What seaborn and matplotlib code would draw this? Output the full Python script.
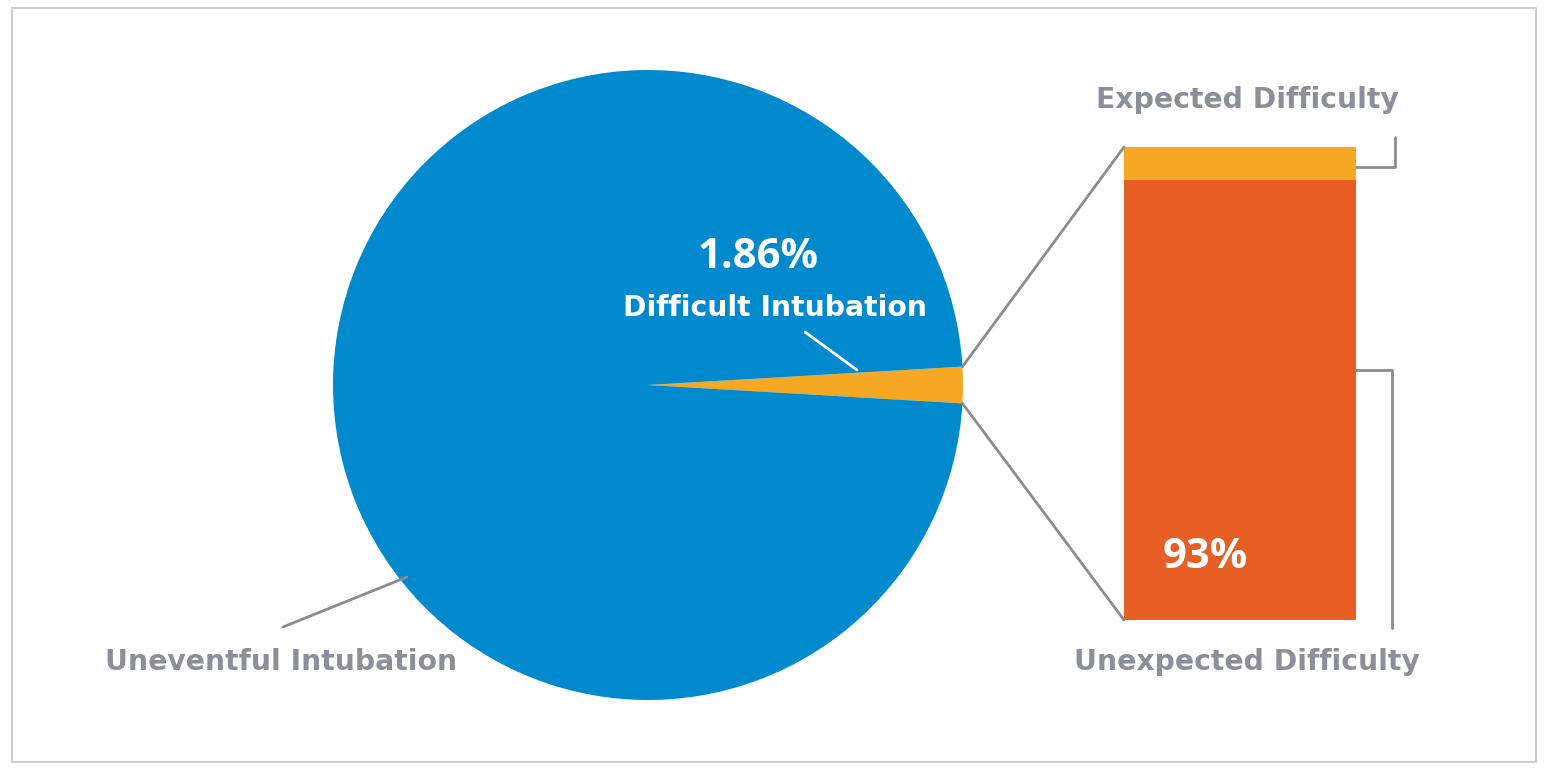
import matplotlib
matplotlib.use("Agg")
import matplotlib.pyplot as plt
from matplotlib.patches import ConnectionPatch, Rectangle
import seaborn as sns
import numpy as np

# ---- data ----
pie_labels = ["Difficult Intubation", "Uneventful Intubation"]
pie_values = [1.86, 98.14]
bar_labels = ["Unexpected Difficulty", "Expected Difficulty"]
bar_values = [93, 7]

sns.set_theme(style="white")
plt.rcParams['font.family'] = ['DejaVu Sans']

LABEL_FONT = ["DejaVu Sans"]
NUM_FONT = ["Open Sans", "DejaVu Sans"]
LABEL_SIZE = 20.3

BLUE = "#0089CC"
YELLOW = "#F4A823"
RED = "#E75F24"
GRAY_TXT = "#8A9099"
GRAY_LN = "#8C8C8C"

W, H = 1555, 772
fig = plt.figure(figsize=(W / 100, H / 100), dpi=100)
fig.patch.set_facecolor("white")

def fx(px):
    return px / W

def fy(py):
    return 1 - py / H

# border box
fig.patches.append(Rectangle((fx(12), fy(762)), fx(1536) - fx(12), fy(8) - fy(762),
                             transform=fig.transFigure, fill=False,
                             edgecolor="#CFCFCF", lw=1.5))

# ---- pie ----
cx, cy, r = 648, 385, 315
ax_pie = fig.add_axes([fx(cx - r), fy(cy + r), 2 * r / W, 2 * r / H])
half = pie_values[0] / sum(pie_values) * 360 / 2
ax_pie.pie(pie_values, colors=[YELLOW, BLUE], startangle=-half,
           counterclock=True, radius=1,
           wedgeprops=dict(linewidth=0))
ax_pie.set_xlim(-1, 1)
ax_pie.set_ylim(-1, 1)
ax_pie.set_aspect("equal")
ax_pie.axis("off")

def pd(px, py):
    return ((px - cx) / r, (cy - py) / r)

ax_pie.text(*pd(758, 257), f"{pie_values[0]:.2f}%", color="white",
            fontsize=30, fontweight="bold", family=NUM_FONT,
            ha="center", va="center")
ax_pie.text(*pd(775, 308), pie_labels[0], color="white", fontsize=LABEL_SIZE,
            fontweight="bold", family=LABEL_FONT, ha="center", va="center")
x0, y0 = pd(805, 332)
x1, y1 = pd(857, 370)
ax_pie.plot([x0, x1], [y0, y1], color="white", lw=2)

ax_pie.text(*pd(281, 662), pie_labels[1], color=GRAY_TXT, fontsize=LABEL_SIZE,
            fontweight="bold", family=LABEL_FONT, ha="center", va="center",
            clip_on=False)
x0, y0 = pd(283, 627)
x1, y1 = pd(407, 577)
ax_pie.plot([x0, x1], [y0, y1], color=GRAY_LN, lw=2, clip_on=False)

# ---- bar ----
bl, br, bt, bb = 1124, 1356, 147, 620
ax_bar = fig.add_axes([fx(bl), fy(bb), (br - bl) / W, (bb - bt) / H])
bottoms = np.concatenate([[0], np.cumsum(bar_values)[:-1]])
for v, b, c in zip(bar_values, bottoms, [RED, YELLOW]):
    ax_bar.bar([0], [v], bottom=b, width=1.0, color=c, linewidth=0)
ax_bar.set_xlim(-0.5, 0.5)
ax_bar.set_ylim(0, 100)
ax_bar.axis("off")

def bd(px, py):
    return ((px - bl) / (br - bl) - 0.5, (bb - py) / (bb - bt) * 100)

ax_bar.text(*bd(1205, 557), f"{bar_values[0]}%", color="white", fontsize=30,
            fontweight="bold", family=NUM_FONT,
            ha="center", va="center")
ax_bar.text(*bd(1247, 100), bar_labels[1], color=GRAY_TXT, fontsize=LABEL_SIZE,
            fontweight="bold", family=LABEL_FONT, ha="center", va="center",
            clip_on=False)
ax_bar.text(*bd(1247, 662), bar_labels[0], color=GRAY_TXT, fontsize=LABEL_SIZE,
            fontweight="bold", family=LABEL_FONT, ha="center", va="center",
            clip_on=False)

# brackets
pts = [bd(1356, 167), bd(1395, 167), bd(1395, 137)]
ax_bar.plot([p[0] for p in pts], [p[1] for p in pts], color=GRAY_LN, lw=2, clip_on=False)
pts = [bd(1356, 370), bd(1392, 370), bd(1392, 628)]
ax_bar.plot([p[0] for p in pts], [p[1] for p in pts], color=GRAY_LN, lw=2, clip_on=False)

# connectors
th = np.deg2rad(half)
for sgn, ytarget in [(1, 100), (-1, 0)]:
    con = ConnectionPatch(xyA=(np.cos(th), sgn * np.sin(th)), coordsA=ax_pie.transData,
                          xyB=(-0.5, ytarget), coordsB=ax_bar.transData,
                          color=GRAY_LN, lw=2)
    fig.add_artist(con)

fig.savefig("out.png", dpi=100)
